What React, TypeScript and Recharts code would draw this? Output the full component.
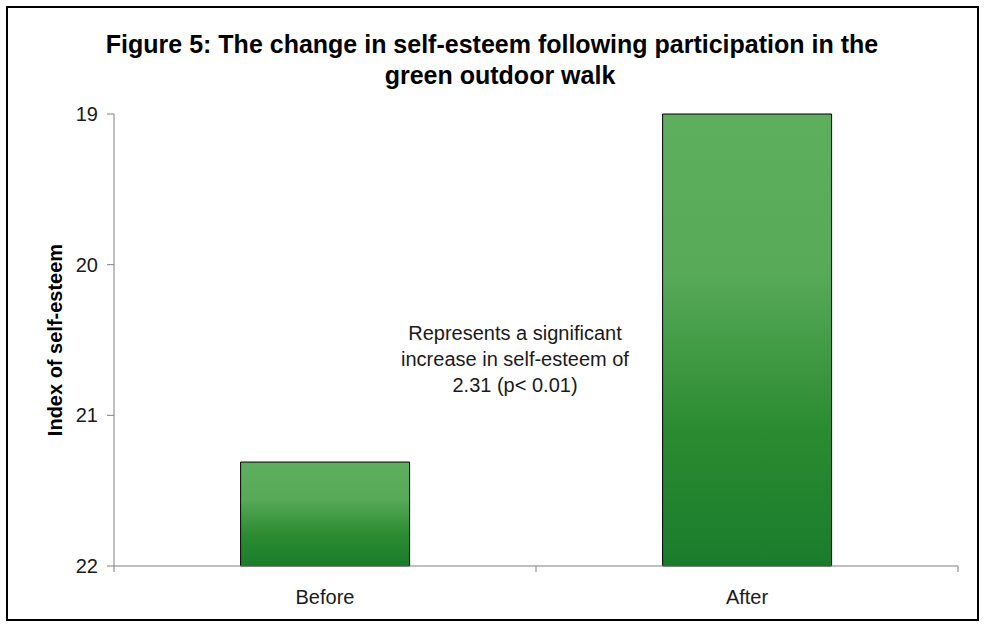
import { Bar, BarChart, XAxis, YAxis } from "recharts";

const FONT = '"Liberation Sans", Arial, sans-serif';

const categories = ["Before", "After"];
const selfEsteem = [21.31, 19.0];
const yTicks = [19, 20, 21, 22];
const AXIS_BASE = 22;

const TITLE_LINES = [
  "Figure 5: The change in self-esteem following participation in the",
  "green outdoor walk",
];
const NOTE_LINES = [
  "Represents a significant",
  "increase in self-esteem of",
  "2.31 (p< 0.01)",
];

const data = categories.map((name, i) => ({ name, value: selfEsteem[i] }));

function CategoryTick(props: any) {
  const { x, y, payload, width, visibleTicksCount, index } = props;
  const half = payload?.offset ?? width / (visibleTicksCount * 2);
  const isLast = index === visibleTicksCount - 1;
  return (
    <g>
      <line x1={x - half} x2={x - half} y1={y - 6} y2={y} stroke="#808080" />
      {isLast && <line x1={x + half} x2={x + half} y1={y - 6} y2={y} stroke="#808080" />}
      <text x={x} y={y + 32} textAnchor="middle" fill="#1a1a1a" fontSize={20} fontFamily={FONT}>
        {payload.value}
      </text>
    </g>
  );
}

export default function App() {
  return (
    <div style={{ position: "absolute", left: 0, top: 0, width: 984, height: 627, background: "#fff", fontFamily: FONT }}>
      <div
        style={{
          position: "absolute", left: 6, top: 6, width: 973, height: 615,
          border: "2px solid #000", boxSizing: "border-box",
        }}
      />
      <BarChart
        width={984}
        height={627}
        data={data}
        margin={{ top: 114, right: 26, bottom: 0, left: 0 }}
        barCategoryGap="30%"
        style={{ fontFamily: FONT }}
      >
        <defs>
          <linearGradient id="greenFill" x1="0" y1="0" x2="0" y2="1">
            <stop offset="0%" stopColor="#5daf5d" />
            <stop offset="35%" stopColor="#58aa58" />
            <stop offset="70%" stopColor="#2b8b31" />
            <stop offset="100%" stopColor="#1a7d2c" />
          </linearGradient>
        </defs>
        <XAxis
          dataKey="name"
          height={61}
          axisLine={{ stroke: "#808080" }}
          tickLine={false}
          tickSize={6}
          tickMargin={0}
          tick={<CategoryTick />}
          interval={0}
        />
        <YAxis
          type="number"
          domain={[19, 22]}
          reversed
          ticks={yTicks}
          width={114}
          axisLine={{ stroke: "#808080" }}
          tickLine={{ stroke: "#808080" }}
          tickSize={7}
          tickMargin={9}
          tick={{ fontSize: 20, fill: "#1a1a1a", fontFamily: FONT }}
          label={{
            value: "Index of self-esteem",
            angle: -90,
            position: "insideLeft",
            offset: 55,
            style: { textAnchor: "middle", fontWeight: "bold", fontSize: 20, fill: "#000", fontFamily: FONT },
          }}
        />
        <Bar
          dataKey={(d: { value: number }) => [AXIS_BASE, d.value]}
          fill="url(#greenFill)"
          stroke="#000"
          strokeWidth={1}
          isAnimationActive={false}
        />
      </BarChart>
      {TITLE_LINES.map((line, i) => (
        <div
          key={line}
          style={{
            position: "absolute", left: 0, width: 984, top: 30 + i * 31,
            textAlign: "center", fontWeight: "bold", fontSize: 25, lineHeight: "29px",
            color: "#000", paddingLeft: i === 0 ? 0 : 16, boxSizing: "border-box",
          }}
        >
          {line}
        </div>
      ))}
      <div
        style={{
          position: "absolute", left: 315, width: 400, top: 320,
          textAlign: "center", fontSize: 20, lineHeight: "26px", color: "#1a1a1a",
        }}
      >
        {NOTE_LINES.map((l) => (
          <div key={l}>{l}</div>
        ))}
      </div>
    </div>
  );
}
